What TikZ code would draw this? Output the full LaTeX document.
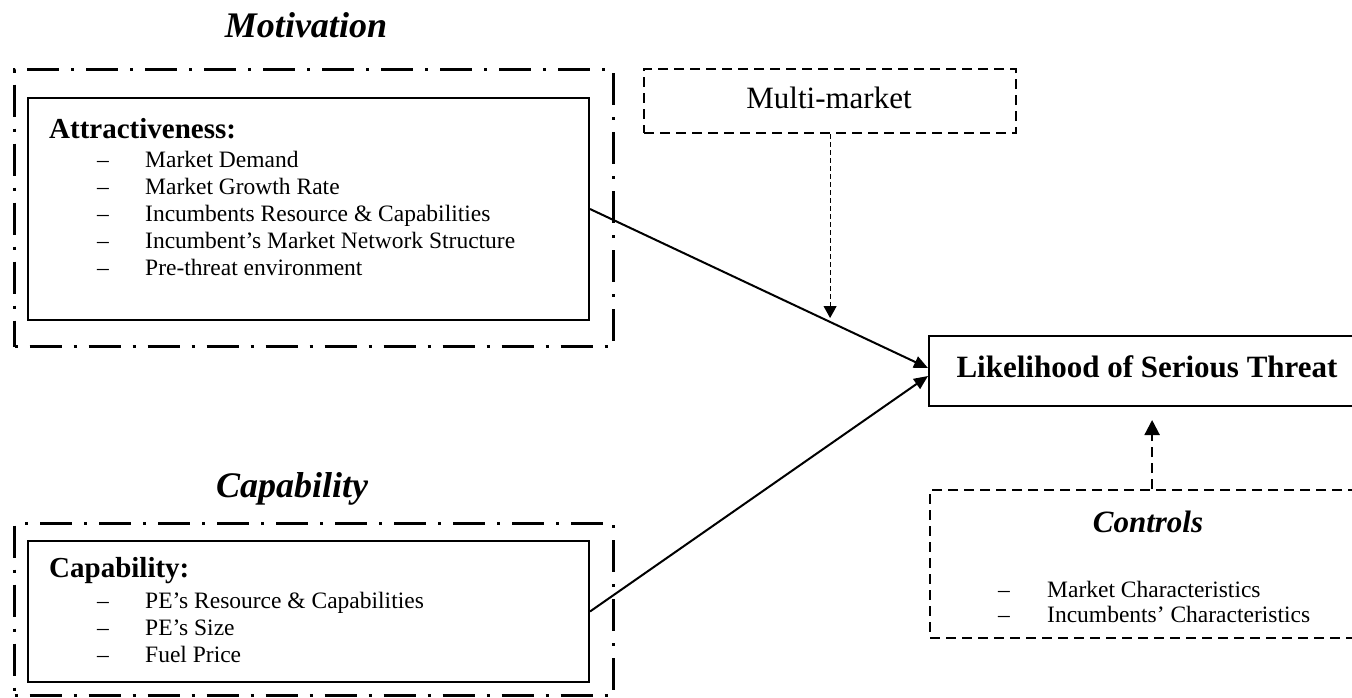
\documentclass[tikz,border=0pt]{standalone}
\usepackage{fontspec}
\setmainfont{Liberation Serif}
\usetikzlibrary{arrows.meta,calc}

\tikzset{
  groupbox/.style={draw, line width=3.2pt, dash pattern=on 3pt off 12pt on 32pt off 12pt,
    inner sep=0pt, anchor=north west},
  solidbox/.style={draw, line width=2pt, inner sep=0pt, anchor=north west},
  dashbox/.style={draw, line width=2.2pt, dash pattern=on 10pt off 6pt, inner sep=0pt, anchor=north west},
  txt/.style={inner sep=0pt, anchor=base west},
  itemtxt/.style={txt, font=\fontsize{23.5}{27}\selectfont},
  headtxt/.style={txt, font=\fontsize{29}{33}\selectfont\bfseries},
  titletxt/.style={inner sep=0pt, anchor=base, font=\fontsize{36}{40}\selectfont\bfseries\itshape},
  bigtxt/.style={inner sep=0pt, anchor=base, font=\fontsize{31}{35}\selectfont},
  link/.style={line width=2pt, -{Triangle[length=14pt,width=12pt]}},
  modlink/.style={line width=1pt, dash pattern=on 5pt off 3pt, -{Triangle[length=12pt,width=13pt]}},
  ctrllink/.style={line width=2.2pt, dash pattern=on 10pt off 6pt, -{Triangle[length=15pt,width=15pt]}},
}

\begin{document}
\begin{tikzpicture}[x=1pt,y=-1pt]
\useasboundingbox (0,0) rectangle (1352,697);

% Motivation group
\node[titletxt] (motT) at (306,37) {Motivation};
\node[groupbox, minimum width=599pt, minimum height=277pt] (motG) at (13,68) {};
\node[solidbox, minimum width=561pt, minimum height=222pt] (att) at (27,97) {};
\node[headtxt] (attH) at (49,138) {Attractiveness:};
\node[itemtxt] (attD1) at (97,167) {–};
\node[itemtxt] (attI1) at (145,167) {Market Demand};
\node[itemtxt] (attD2) at (97,194) {–};
\node[itemtxt] (attI2) at (145,194) {Market Growth Rate};
\node[itemtxt] (attD3) at (97,221) {–};
\node[itemtxt] (attI3) at (145,221) {Incumbents Resource \& Capabilities};
\node[itemtxt] (attD4) at (97,248) {–};
\node[itemtxt] (attI4) at (145,248) {Incumbent’s Market Network Structure};
\node[itemtxt] (attD5) at (97,275) {–};
\node[itemtxt] (attI5) at (145,275) {Pre-threat environment};

% Capability group
\node[titletxt] (capT) at (292,497) {Capability};
\node[groupbox, minimum width=599pt, minimum height=172pt] (capG) at (13,522) {};
\node[solidbox, minimum width=561pt, minimum height=141pt] (capb) at (27,540) {};
\node[headtxt] (capH) at (49,577) {Capability:};
\node[itemtxt] (capD1) at (97,608) {–};
\node[itemtxt] (capI1) at (145,608) {PE’s Resource \& Capabilities};
\node[itemtxt] (capD2) at (97,635) {–};
\node[itemtxt] (capI2) at (145,635) {PE’s Size};
\node[itemtxt] (capD3) at (97,662) {–};
\node[itemtxt] (capI3) at (145,662) {Fuel Price};

% Moderator
\node[dashbox, minimum width=372pt, minimum height=64pt] (multi) at (643,68) {};
\node[bigtxt] (multiT) at (829,108) {Multi-market};

% Outcome
\node[solidbox, minimum width=440pt, minimum height=70pt] (lik) at (928,335) {};
\node[bigtxt, font=\fontsize{31}{35}\selectfont\bfseries] (likT) at (1147,377) {Likelihood of Serious Threat};

% Controls
\node[dashbox, minimum width=444pt, minimum height=148pt] (ctrl) at (929,489) {};
\node[bigtxt, font=\fontsize{31}{35}\selectfont\bfseries\itshape] (ctrlT) at (1148,532) {Controls};
\node[itemtxt] (ctrlD1) at (998,597) {–};
\node[itemtxt] (ctrlI1) at (1047,597) {Market Characteristics};
\node[itemtxt] (ctrlD2) at (998,622) {–};
\node[itemtxt] (ctrlI2) at (1047,622) {Incumbents’ Characteristics};

% Connectors
\coordinate (tipA) at ($(lik.west)+(0,-3)$);
\coordinate (tipB) at ($(lik.west)+(0,5)$);
\coordinate (modTip) at (multi.south |- 0,318);
\coordinate (ctrlTip) at (ctrl.north |- 0,420);

\draw[link] (att.east) -- (tipA);
\draw[link] (capb.east) -- (tipB);
\draw[modlink] (multi.south) -- (modTip);
\draw[ctrllink] (ctrl.north) -- (ctrlTip);
\end{tikzpicture}
\end{document}
